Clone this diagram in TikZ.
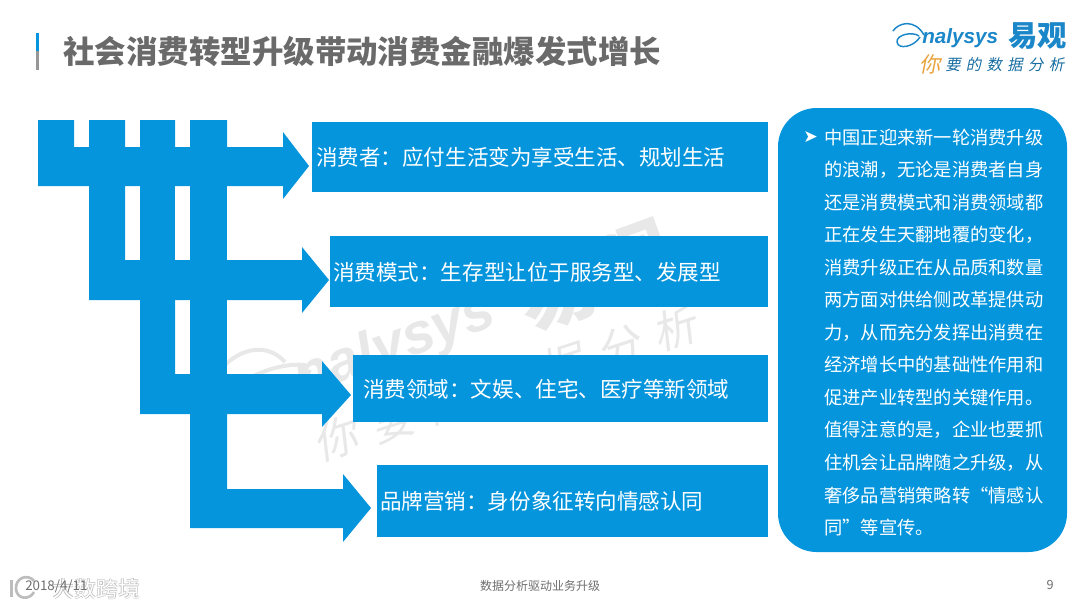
\documentclass[tikz,border=0pt]{standalone}
\usepackage{fontspec}
\setmainfont{Noto Sans CJK SC}
\newfontfamily\symfont{DejaVu Sans}
\newfontfamily\logofont{Liberation Sans}
\newfontfamily\slogfont[FakeSlant=0.2,LetterSpace=35]{Noto Sans CJK SC}
\usepackage{xcolor}
\definecolor{mainBlue}{HTML}{0595DD}
\definecolor{titleGray}{HTML}{6A6A6A}
\definecolor{footGray}{HTML}{6E6E6E}
\definecolor{logoBlue}{HTML}{1B87C9}
\definecolor{logoOrange}{HTML}{E8A33D}
\definecolor{markGray}{HTML}{E8E8E8}
\definecolor{stampGray}{HTML}{BDBDBD}
\usetikzlibrary{positioning}
% full-width punctuation
\newcommand{\cncolon}{\char"FF1A\relax}
\newcommand{\cncomma}{\char"FF0C\relax}
\tikzset{
    % Filled shapes: arrows, boxes, panel
    arrow body/.style={fill=mainBlue, draw=none},
    % Labels inside the boxes
    topic text/.style={text=white, font=\fontsize{16.15}{16}\selectfont, anchor=west, inner sep=0pt},
    % Text of the right panel
    panel text/.style={
        text=white,
        font=\fontsize{13.7}{24.4}\selectfont,
        align=left,
        anchor=north west,
        inner sep=0pt,
    },
    % Large grey mark behind the shapes
    mark text/.style={text=markGray, inner sep=0pt},
    logo text/.style={anchor=west, inner sep=0pt},
    foot text/.style={text=footGray, font=\fontsize{9}{10}\selectfont, inner sep=0pt},
    stamp text/.style={inner sep=0pt, anchor=west},
}
\begin{document}
\begin{tikzpicture}[x=0.75pt, y=-0.75pt]
    \useasboundingbox (0,0) rectangle (1080,608);

    % grey mark
    \draw [markGray, line width=3pt] (218,373) .. controls (235,350) and (265,340) .. (285,362);
    \draw [markGray, line width=3pt] (308,366) .. controls (290,360) and (235,375) .. (236,398) .. controls (238,420) and (295,395) .. (310,370);
    \node (markname) [mark text, rotate=20, font=\logofont\fontsize{43}{44}\selectfont\bfseries\itshape] at (395,347) {nalysys};
    \node (markcn) [mark text, rotate=20, font=\fontsize{60}{60}\selectfont\bfseries] at (595,277) {易观};
    \node (markslogan) [mark text, rotate=18, font=\slogfont\fontsize{33}{33}\selectfont] at (505,384) {你要的数据分析};

    % title
    \fill [mainBlue] (36,33) rectangle (39,51);
    \fill [titleGray!70] (36,51) rectangle (39,70);
    \node (title) [anchor=west, inner sep=0pt, text=titleGray, font=\fontsize{23.6}{24}\selectfont\bfseries] at (63,51) {社会消费转型升级带动消费金融爆发式增长};

    % logo
    \draw [logoBlue, line width=1.1pt] (893,31) .. controls (899,22) and (915,19) .. (924,35);
    \draw [logoBlue, line width=1.1pt] (919,36) .. controls (912,31) and (896,35) .. (897,42) .. controls (898,50) and (914,47) .. (920,37);
    \node (logoname) [logo text, text=logoBlue, font=\logofont\fontsize{15.5}{16}\selectfont\bfseries\itshape] at (922,38) {nalysys};
    \node (logocn) [logo text, text=logoBlue, font=\fontsize{22}{22}\selectfont\bfseries] at (1008,36) {易观};
    \node (slogan1) [logo text, text=logoOrange, font=\slogfont\fontsize{16}{16}\selectfont] at (919,64) {你};
    \node (slogan2) [logo text, text=logoBlue!80!black, font=\slogfont\fontsize{11.5}{12}\selectfont] at (945,65) {要的数据分析};

    % boxes
    \fill [arrow body] (312,122) rectangle (768,192);
    \fill [arrow body] (330,236) rectangle (768,307);
    \fill [arrow body] (353,355) rectangle (768,422);
    \fill [arrow body] (377,465) rectangle (768,537);
    \node (consumer) [topic text] at (316,157) {消费者\cncolon 应付生活变为享受生活、规划生活};
    \node (mode) [topic text] at (333,272) {消费模式\cncolon 生存型让位于服务型、发展型};
    \node (field) [topic text] at (363,389) {消费领域\cncolon 文娱、住宅、医疗等新领域};
    \node (brand) [topic text] at (380,501) {品牌营销\cncolon 身份象征转向情感认同};

    % joined arrows
    \fill [arrow body] (38,120) -- (74,120) -- (74,147) -- (89,147) -- (89,120) -- (125,120) -- (125,147) -- (140,147) -- (140,120) -- (175,120) -- (175,147) -- (190,147) -- (190,120) -- (227,120) -- (227,147) -- (283,147) -- (283,132) -- (309,166) -- (283,199) -- (283,186) -- (38,186) -- cycle;
    \fill [arrow body] (89,186) -- (125,186) -- (125,260) -- (302,260) -- (302,247) -- (329,280) -- (302,313) -- (302,300) -- (89,300) -- cycle;
    \fill [arrow body] (140,186) rectangle (175,300);
    \fill [arrow body] (190,186) rectangle (227,300);
    \fill [arrow body] (140,300) -- (175,300) -- (175,374) -- (322,374) -- (322,361) -- (351,395) -- (322,427) -- (322,414) -- (140,414) -- cycle;
    \fill [arrow body] (190,300) rectangle (227,414);
    \fill [arrow body] (190,414) -- (227,414) -- (227,489) -- (343,489) -- (343,474) -- (371,508) -- (343,542) -- (343,528) -- (190,528) -- cycle;

    % right panel
    \fill [arrow body, rounded corners=29pt] (778,108) rectangle (1067,552);
    \node (bullet) [anchor=west, inner sep=0pt, text=white, font=\symfont\fontsize{13}{13}\selectfont] at (803,137) {➤};
    \node (paneltext) [panel text] at (824,128.5) {中国正迎来新一轮消费升级\\的浪潮\cncomma 无论是消费者自身\\还是消费模式和消费领域都\\正在发生天翻地覆的变化\cncomma\\消费升级正在从品质和数量\\两方面对供给侧改革提供动\\力\cncomma 从而充分发挥出消费在\\经济增长中的基础性作用和\\促进产业转型的关键作用。\\值得注意的是\cncomma 企业也要抓\\住机会让品牌随之升级\cncomma 从\\奢侈品营销策略转“情感认\\同”等宣传。};

    % stamp, bottom left
    \draw [stampGray, line width=2pt] (34,581) .. controls (28,573) and (15,578) .. (16,589) .. controls (17,600) and (30,600) .. (34,592);
    \fill [stampGray] (10,580) rectangle (13,597);
    \node (stampback) [stamp text, text=stampGray, font=\fontsize{16.5}{17}\selectfont\bfseries] at (52,589) {大数跨境};
    \node (stamp) [stamp text, text=white, font=\fontsize{16.5}{17}\selectfont] at (52,589) {大数跨境};

    % footer
    \node (date) [foot text, anchor=west, font=\fontsize{10}{10}\selectfont] at (25,586) {2018/4/11};
    \node (foot) [foot text] at (540,586) {数据分析驱动业务升级};
    \node (page) [foot text, font=\fontsize{9.5}{10}\selectfont] at (1050,585) {9};
\end{tikzpicture}
\end{document}
